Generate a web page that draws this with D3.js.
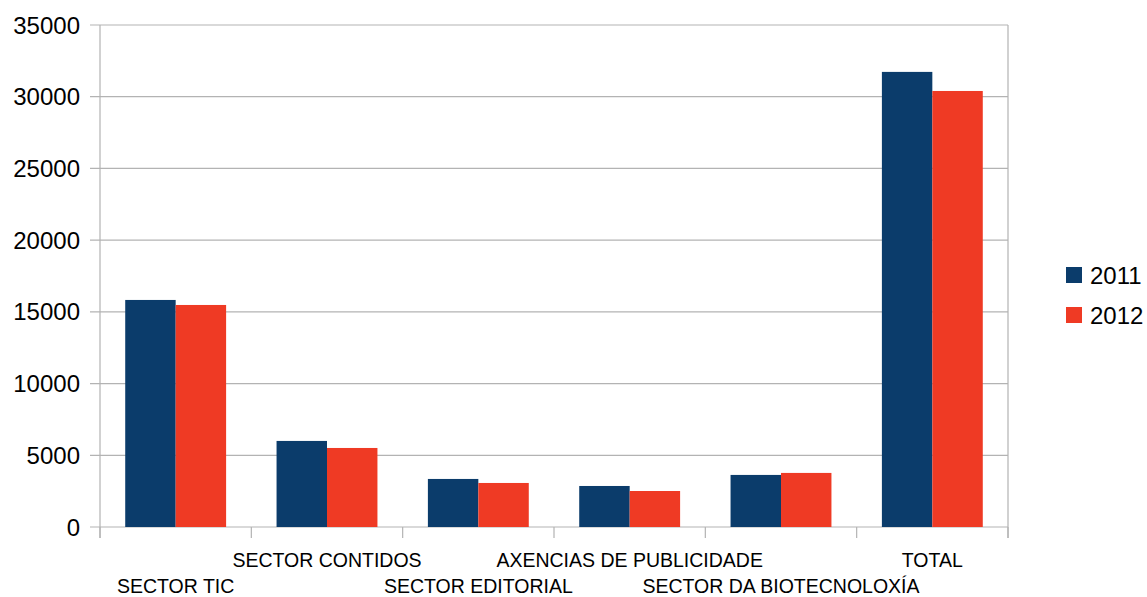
<!DOCTYPE html>
<html>
<head>
<meta charset="utf-8">
<script src="https://cdn.jsdelivr.net/npm/d3@7"></script>
<style>
  body { margin: 0; background: #fff; }
  text { font-family: "Liberation Sans", Arial, sans-serif; fill: #000; }
</style>
</head>
<body>
<div id="chart"></div>
<script>
(function () {
"use strict";

// Data
var categories = ["SECTOR TIC", "SECTOR CONTIDOS", "SECTOR EDITORIAL",
                  "AXENCIAS DE PUBLICIDADE", "SECTOR DA BIOTECNOLOXÍA", "TOTAL"];
var series = ["2011", "2012"];
var values2011 = [15830, 6000, 3350, 2860, 3630, 31730];
var values2012 = [15480, 5510, 3070, 2510, 3770, 30400];
var yTicks = [0, 5000, 10000, 15000, 20000, 25000, 30000, 35000];
var colors = ["#0b3c6b", "#ef3a24"];

var fullWidth = 1147, fullHeight = 597;

var margins = { left: 100, right: 139, top: 25, bottom: 70 };
var width = fullWidth - margins.left - margins.right,
    height = fullHeight - margins.top - margins.bottom;

var svg = d3.select("#chart").append("svg")
  .attr("width", fullWidth)
  .attr("height", fullHeight);

var g = svg.append("g")
  .attr("transform", "translate(" + margins.left + "," + margins.top + ")");

var xScale = d3.scaleBand()
  .domain(categories)
  .range([0, width]);

var xInner = d3.scaleBand()
  .domain(series)
  .range([xScale.bandwidth() / 6, xScale.bandwidth() * 5 / 6]);

var yScale = d3.scaleLinear()
  .domain([0, 35000])
  .range([height, 0]);

var gridColor = "#b3b3b3";

// Horizontal grid lines + left ticks
g.append("g")
  .selectAll("line")
  .data(yTicks)
  .enter()
    .append("line")
      .attr("x1", -10)
      .attr("x2", width)
      .attr("y1", function(d) { return yScale(d); })
      .attr("y2", function(d) { return yScale(d); })
      .style("stroke", gridColor)
      .style("stroke-width", 1.2);

// Left and right frame lines
[0, width].forEach(function(x) {
  g.append("line")
    .attr("x1", x).attr("x2", x)
    .attr("y1", 0).attr("y2", height + 11)
    .style("stroke", gridColor)
    .style("stroke-width", 1.2);
});

// Category ticks below the axis
var bounds = categories.map(function(c) { return xScale(c); }).concat([width]);
g.append("g")
  .selectAll("line")
  .data(bounds)
  .enter()
    .append("line")
      .attr("x1", function(d) { return d; })
      .attr("x2", function(d) { return d; })
      .attr("y1", height)
      .attr("y2", height + 11)
      .style("stroke", gridColor)
      .style("stroke-width", 1.2);

// Y tick labels
g.append("g")
  .selectAll("text")
  .data(yTicks)
  .enter()
    .append("text")
      .attr("x", -20)
      .attr("y", function(d) { return yScale(d); })
      .attr("dy", "0.36em")
      .style("text-anchor", "end")
      .style("font-size", "24px")
      .text(function(d) { return d; });

// Bars
var allValues = [values2011, values2012];
series.forEach(function(s, si) {
  g.append("g")
    .selectAll("rect")
    .data(categories)
    .enter()
      .append("rect")
        .attr("x", function(c) { return xScale(c) + xInner(s); })
        .attr("width", xInner.bandwidth())
        .attr("y", function(c, i) { return yScale(allValues[si][i]); })
        .attr("height", function(c, i) { return height - yScale(allValues[si][i]); })
        .style("fill", colors[si]);
});

// X labels, staggered on two rows
g.append("g")
  .selectAll("text")
  .data(categories)
  .enter()
    .append("text")
      .attr("x", function(c) { return xScale(c) + xScale.bandwidth() / 2; })
      .attr("y", function(c, i) { return height + (i % 2 === 0 ? 66 : 40); })
      .style("text-anchor", "middle")
      .style("font-size", "19.5px")
      .text(function(c) { return c; });

// Legend
var legend = svg.append("g")
  .attr("transform", "translate(1066, 267)");

series.forEach(function(s, i) {
  legend.append("rect")
    .attr("x", 0)
    .attr("y", i * 40)
    .attr("width", 16)
    .attr("height", 16)
    .style("fill", colors[i]);
  legend.append("text")
    .attr("x", 24)
    .attr("y", i * 40 + 8)
    .attr("dy", "0.36em")
    .style("font-size", "24px")
    .text(s);
});

})();
</script>
</body>
</html>
